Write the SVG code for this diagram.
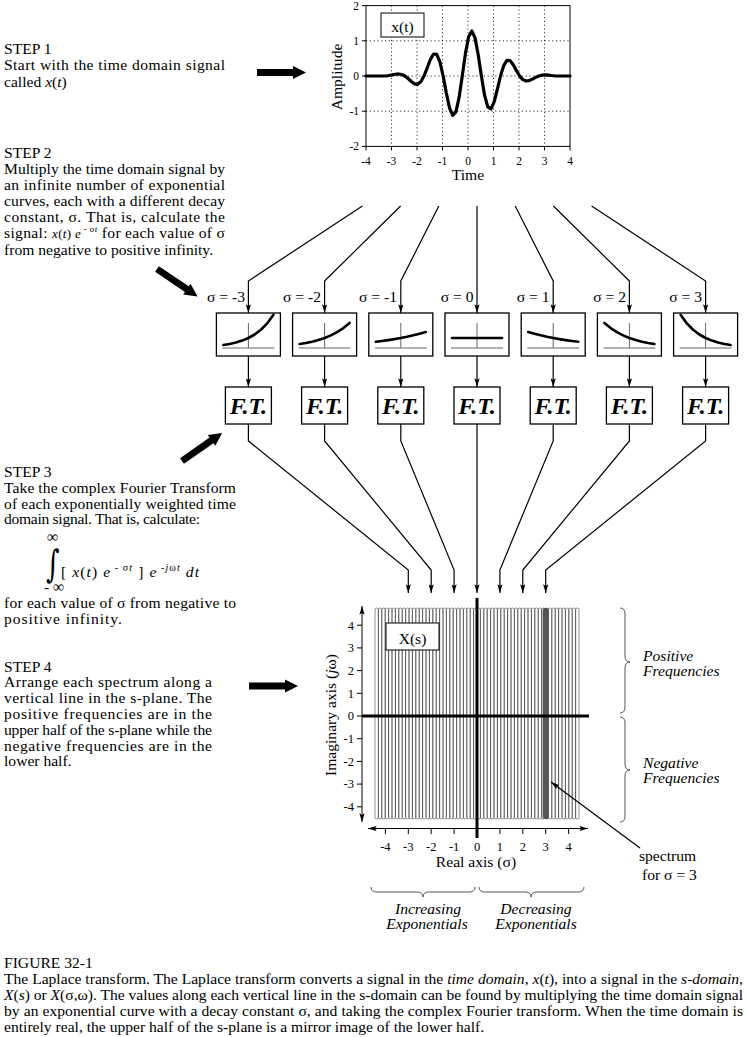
<svg xmlns="http://www.w3.org/2000/svg" xmlns:xlink="http://www.w3.org/1999/xlink" width="747" height="1037" viewBox="0 0 747 1037">
<style>
.t{font-family:"Liberation Serif","Times New Roman",serif;font-size:15.6px;fill:#000}
.i{font-style:italic}
.sm{font-family:"Liberation Serif","Times New Roman",serif;font-size:11.5px;fill:#000}
.tk{font-family:"Liberation Serif","Times New Roman",serif;font-size:12.5px;fill:#000}
.ft{font-family:"Liberation Serif","Times New Roman",serif;font-size:24px;font-weight:bold;font-style:italic;text-anchor:middle}
.box{fill:#fff;stroke:#000;stroke-width:1.3}
.con{fill:none;stroke:#000;stroke-width:1.2;marker-end:url(#ah)}
.grid{stroke:#000;stroke-width:0.8;stroke-dasharray:1.2 2.6}
.ax{fill:none;stroke:#666;stroke-width:1}
.ex{fill:none;stroke:#000;stroke-width:2.6;stroke-linecap:round;stroke-linejoin:round}
.thin{fill:none;stroke:#000;stroke-width:1}
.brace{fill:none;stroke:#555;stroke-width:1}
</style>
<defs>
<marker id="ah" viewBox="0 0 10 6" refX="10" refY="3" markerWidth="9" markerHeight="5.2" markerUnits="userSpaceOnUse" orient="auto-start-reverse"><path d="M0,0 L10,3 L0,6 L2,3 Z" fill="#000"/></marker>
<path id="blk" d="M0,-3.4 H36 V-6.6 L49,0 L36,6.6 V3.4 H0 Z" fill="#000"/>
<path id="axs" class="ax" d="M-26,0 H26 M0,-25 V0"/>
<path id="e3" class="ex" d="M-25,-3 L-18.75,-4.07 L-12.5,-5.49 L-6.25,-7.41 L0,-10 L6.25,-13.5 L12.5,-18.22 L18.75,-24.6 L25,-33.2"/>
<path id="e2" class="ex" d="M-25,-4 L-18.75,-5.02 L-12.5,-6.31 L-6.25,-7.95 L0,-10 L6.25,-12.6 L12.5,-15.85 L18.75,-19.94 L25,-25.1"/>
<path id="e1" class="ex" d="M-25,-6.25 L-18.75,-7.03 L-12.5,-7.91 L-6.25,-8.89 L0,-10 L6.25,-11.25 L12.5,-12.65 L18.75,-14.23 L25,-16"/>
<path id="e0" class="ex" d="M-25,-10 L25,-10"/>
<rect id="col" x="0" y="608" width="3.4" height="211" rx="1.7" ry="1.7" fill="none" stroke="#222" stroke-width="0.5"/>
</defs>
<rect width="747" height="1037" fill="#fff"/>

<!-- top plot x(t) -->
<g id="plot-xt">
<g class="grid">
<path d="M391.5,5.6 V146.4 M417,5.6 V146.4 M442.5,5.6 V146.4 M468,5.6 V146.4 M493.5,5.6 V146.4 M519,5.6 V146.4 M544.5,5.6 V146.4"/>
<path d="M366,40.8 H570 M366,76 H570 M366,111.2 H570"/>
</g>
<rect x="366" y="5.6" width="204" height="140.8" fill="none" stroke="#000" stroke-width="1"/>
<path class="thin" d="M362,5.6 H366 M362,40.8 H366 M362,76 H366 M362,111.2 H366 M362,146.4 H366 M366,146.4 V150.4 M391.5,146.4 V150.4 M417,146.4 V150.4 M442.5,146.4 V150.4 M468,146.4 V150.4 M493.5,146.4 V150.4 M519,146.4 V150.4 M544.5,146.4 V150.4 M570,146.4 V150.4"/>
<g class="sm" text-anchor="end">
<text x="359" y="9.6">2</text><text x="359" y="44.8">1</text><text x="359" y="80">0</text><text x="359" y="115.2">-1</text><text x="359" y="150.4">-2</text>
</g>
<g class="sm" text-anchor="middle">
<text x="366" y="165">-4</text><text x="391.5" y="165">-3</text><text x="417" y="165">-2</text><text x="442.5" y="165">-1</text><text x="468" y="165">0</text><text x="493.5" y="165">1</text><text x="519" y="165">2</text><text x="544.5" y="165">3</text><text x="570" y="165">4</text>
</g>
<text class="t" x="468" y="180" font-size="13.3" text-anchor="middle">Time</text>
<text class="t" transform="translate(342,77) rotate(-90)" font-size="13.3" text-anchor="middle">Amplitude</text>
<polyline fill="none" stroke="#000" stroke-width="3.2" stroke-linejoin="round" stroke-linecap="round" points="366,76 385.8,76 388.95,75.51 392.14,74.84 395.33,74.22 398.51,73.96 401.7,74.47 404.89,76 408.08,78.52 411.26,81.47 414.45,83.84 417.64,84.31 420.83,81.81 424.01,76 427.2,67.81 430.39,59.47 433.58,54.03 436.76,54.37 439.95,61.98 443.14,76 446.33,93.03 449.51,107.89 452.7,115.34 455.89,111.94 459.08,97.62 462.26,76 465.45,53.39 468.64,36.69 471.83,31 475.01,37.84 478.2,54.7 481.39,76 484.58,95.19 487.76,106.95 490.95,108.88 494.14,101.88 497.33,89.4 500.51,76 503.7,65.6 506.89,60.43 510.08,60.65 513.26,64.79 516.45,70.61 519.64,76 522.83,79.6 526.01,81 529.2,80.58 532.39,79.1 535.58,77.38 538.76,76 541.95,75.2 545.14,74.97 548.33,75.13 551.5,75.5 554.7,75.8 558,76 570,76"/>
<rect x="381" y="13" width="43" height="24" fill="#fff" stroke="#000" stroke-width="1"/>
<text class="t" x="402.5" y="31.5" font-size="20" text-anchor="middle">x(t)</text>
</g>

<!-- step texts -->
<g id="step1">
<text class="t" x="4" y="54">STEP 1</text>
<text class="t" x="4" y="70" textLength="221" lengthAdjust="spacing">Start with the time domain signal</text>
<text class="t" x="4" y="87">called <tspan class="i">x</tspan>(<tspan class="i">t</tspan>)</text>
</g>
<g id="step2">
<text class="t" x="4" y="158">STEP 2</text>
<text class="t" x="4" y="174" textLength="221" lengthAdjust="spacing">Multiply the time domain signal by</text>
<text class="t" x="4" y="190" textLength="221" lengthAdjust="spacing">an infinite number of exponential</text>
<text class="t" x="4" y="206" textLength="221" lengthAdjust="spacing">curves, each with a different decay</text>
<text class="t" x="4" y="222" textLength="221" lengthAdjust="spacing">constant, σ.  That is, calculate the</text>
<text class="t" x="4" y="238" textLength="221" lengthAdjust="spacing">signal: <tspan font-size="13"><tspan class="i">x</tspan>(<tspan class="i">t</tspan>) <tspan class="i">e</tspan></tspan><tspan font-size="9" dy="-6"> - σ<tspan class="i">t</tspan></tspan><tspan dy="6"> for each value of σ</tspan></text>
<text class="t" x="4" y="255">from negative to positive infinity.</text>
</g>
<g id="step3">
<text class="t" x="4" y="477">STEP 3</text>
<text class="t" x="4" y="493" textLength="232" lengthAdjust="spacing">Take the complex Fourier Transform</text>
<text class="t" x="4" y="509" textLength="232" lengthAdjust="spacing">of each exponentially weighted time</text>
<text class="t" x="4" y="524" textLength="196" lengthAdjust="spacing">domain signal.  That is, calculate:</text>
<text class="t" x="47" y="542" font-size="10">∞</text>
<text transform="translate(46,577) scale(0.9,1.3)" font-family="DejaVu Serif, serif" font-size="29">∫</text>
<text class="t" x="44" y="592" font-size="10">- ∞</text>
<text class="t" x="61" y="577" textLength="138" lengthAdjust="spacing">[ <tspan class="i">x</tspan>(<tspan class="i">t</tspan>) <tspan class="i">e</tspan><tspan font-size="10" dy="-6"> - σ<tspan class="i">t</tspan></tspan><tspan dy="6"> ] </tspan><tspan class="i">e</tspan><tspan font-size="10" dy="-6"> -<tspan class="i">j</tspan>ω<tspan class="i">t</tspan></tspan><tspan class="i" dy="6"> dt</tspan></text>
<text class="t" x="4" y="608" textLength="232" lengthAdjust="spacing">for each value of σ from negative to</text>
<text class="t" x="4" y="624" textLength="118" lengthAdjust="spacing">positive infinity.</text>
</g>
<g id="step4">
<text class="t" x="4" y="672">STEP 4</text>
<text class="t" x="4" y="687" textLength="208" lengthAdjust="spacing">Arrange each spectrum along a</text>
<text class="t" x="4" y="703" textLength="208" lengthAdjust="spacing">vertical line in the s-plane. The</text>
<text class="t" x="4" y="719" textLength="208" lengthAdjust="spacing">positive frequencies are in the</text>
<text class="t" x="4" y="735" textLength="208" lengthAdjust="spacing">upper half of the s-plane while the</text>
<text class="t" x="4" y="751" textLength="208" lengthAdjust="spacing">negative frequencies are in the</text>
<text class="t" x="4" y="766">lower half.</text>
</g>

<!-- block arrows -->
<g id="block-arrows">
<use href="#blk" transform="translate(257,72.5)"/>
<use href="#blk" transform="translate(157,269) rotate(34)"/>
<use href="#blk" transform="translate(182,461) rotate(-35)"/>
<use href="#blk" transform="translate(249,686)"/>
</g>

<!-- connectors -->
<g id="connectors">
<path class="con" d="M362.4,206 L248.4,281 V313"/>
<path class="con" d="M400.6,206 L324.6,281 V313"/>
<path class="con" d="M438.8,206 L400.8,281 V313"/>
<path class="con" d="M477,206 V313"/>
<path class="con" d="M515.2,206 L553.2,281 V313"/>
<path class="con" d="M553.4,206 L629.4,281 V313"/>
<path class="con" d="M591.6,206 L705.6,281 V313"/>
<path class="con" d="M248.4,356 V387"/>
<path class="con" d="M324.6,356 V387"/>
<path class="con" d="M400.8,356 V387"/>
<path class="con" d="M477,356 V387"/>
<path class="con" d="M553.2,356 V387"/>
<path class="con" d="M629.4,356 V387"/>
<path class="con" d="M705.6,356 V387"/>
<path class="con" d="M248.4,424 V441 L408.3,570 V593"/>
<path class="con" d="M324.6,424 V441 L431.2,570 V593"/>
<path class="con" d="M400.8,424 V441 L454.1,570 V593"/>
<path class="con" d="M477,424 V593"/>
<path class="con" d="M553.2,424 V441 L499.9,570 V593"/>
<path class="con" d="M629.4,424 V441 L522.8,570 V593"/>
<path class="con" d="M705.6,424 V441 L545.7,570 V593"/>
</g>

<!-- sigma labels -->
<g id="sigma-labels" class="t" font-size="15" text-anchor="end">
<text x="245" y="302">σ = -3</text>
<text x="321" y="302">σ = -2</text>
<text x="397" y="302">σ = -1</text>
<text x="473.5" y="302">σ = 0</text>
<text x="549.5" y="302">σ = 1</text>
<text x="626" y="302">σ = 2</text>
<text x="702" y="302">σ = 3</text>
</g>

<!-- exponential boxes -->
<g id="exp-m3"><rect class="box" x="216.4" y="313" width="64" height="43"/><use href="#axs" transform="translate(248.4,348)"/><use href="#e3" transform="translate(248.4,348)"/></g>
<g id="exp-m2"><rect class="box" x="292.6" y="313" width="64" height="43"/><use href="#axs" transform="translate(324.6,348)"/><use href="#e2" transform="translate(324.6,348)"/></g>
<g id="exp-m1"><rect class="box" x="368.8" y="313" width="64" height="43"/><use href="#axs" transform="translate(400.8,348)"/><use href="#e1" transform="translate(400.8,348)"/></g>
<g id="exp-0"><rect class="box" x="445" y="313" width="64" height="43"/><use href="#axs" transform="translate(477,348)"/><use href="#e0" transform="translate(477,348)"/></g>
<g id="exp-p1"><rect class="box" x="521.2" y="313" width="64" height="43"/><use href="#axs" transform="translate(553.2,348)"/><use href="#e1" transform="translate(553.2,348) scale(-1,1)"/></g>
<g id="exp-p2"><rect class="box" x="597.4" y="313" width="64" height="43"/><use href="#axs" transform="translate(629.4,348)"/><use href="#e2" transform="translate(629.4,348) scale(-1,1)"/></g>
<g id="exp-p3"><rect class="box" x="673.6" y="313" width="64" height="43"/><use href="#axs" transform="translate(705.6,348)"/><use href="#e3" transform="translate(705.6,348) scale(-1,1)"/></g>

<!-- FT boxes -->
<g id="ft-m3"><rect class="box" x="225.4" y="387" width="46" height="37"/><text class="ft" x="248.4" y="414">F.T.</text></g>
<g id="ft-m2"><rect class="box" x="301.6" y="387" width="46" height="37"/><text class="ft" x="324.6" y="414">F.T.</text></g>
<g id="ft-m1"><rect class="box" x="377.8" y="387" width="46" height="37"/><text class="ft" x="400.8" y="414">F.T.</text></g>
<g id="ft-0"><rect class="box" x="454" y="387" width="46" height="37"/><text class="ft" x="477" y="414">F.T.</text></g>
<g id="ft-p1"><rect class="box" x="530.2" y="387" width="46" height="37"/><text class="ft" x="553.2" y="414">F.T.</text></g>
<g id="ft-p2"><rect class="box" x="606.4" y="387" width="46" height="37"/><text class="ft" x="629.4" y="414">F.T.</text></g>
<g id="ft-p3"><rect class="box" x="682.6" y="387" width="46" height="37"/><text class="ft" x="705.6" y="414">F.T.</text></g>

<!-- s-plane -->
<g id="s-plane">
<g id="columns">
<use href="#col" x="375"/><use href="#col" x="378.4"/><use href="#col" x="381.8"/><use href="#col" x="385.2"/><use href="#col" x="388.6"/><use href="#col" x="392"/><use href="#col" x="395.4"/><use href="#col" x="398.8"/><use href="#col" x="402.2"/><use href="#col" x="405.6"/>
<use href="#col" x="409"/><use href="#col" x="412.4"/><use href="#col" x="415.8"/><use href="#col" x="419.2"/><use href="#col" x="422.6"/><use href="#col" x="426"/><use href="#col" x="429.4"/><use href="#col" x="432.8"/><use href="#col" x="436.2"/><use href="#col" x="439.6"/>
<use href="#col" x="443"/><use href="#col" x="446.4"/><use href="#col" x="449.8"/><use href="#col" x="453.2"/><use href="#col" x="456.6"/><use href="#col" x="460"/><use href="#col" x="463.4"/><use href="#col" x="466.8"/><use href="#col" x="470.2"/><use href="#col" x="473.6"/>
<use href="#col" x="477"/><use href="#col" x="480.4"/><use href="#col" x="483.8"/><use href="#col" x="487.2"/><use href="#col" x="490.6"/><use href="#col" x="494"/><use href="#col" x="497.4"/><use href="#col" x="500.8"/><use href="#col" x="504.2"/><use href="#col" x="507.6"/>
<use href="#col" x="511"/><use href="#col" x="514.4"/><use href="#col" x="517.8"/><use href="#col" x="521.2"/><use href="#col" x="524.6"/><use href="#col" x="528"/><use href="#col" x="531.4"/><use href="#col" x="534.8"/><use href="#col" x="538.2"/><use href="#col" x="541.6"/>
<use href="#col" x="545"/><use href="#col" x="548.4"/><use href="#col" x="551.8"/><use href="#col" x="555.2"/><use href="#col" x="558.6"/><use href="#col" x="562"/><use href="#col" x="565.4"/><use href="#col" x="568.8"/><use href="#col" x="572.2"/><use href="#col" x="575.6"/>
</g>
<rect x="542.7" y="608" width="6" height="211" rx="2" fill="#555"/>
<path d="M362,716 H589" stroke="#000" stroke-width="3"/>
<path d="M477,598 V838" stroke="#000" stroke-width="3"/>
<path class="thin" d="M362,606 V822" marker-start="url(#ah)" marker-end="url(#ah)"/>
<path class="thin" d="M368,828.5 H588" marker-start="url(#ah)" marker-end="url(#ah)"/>
<path class="thin" d="M357,625.2 H362 M357,647.9 H362 M357,670.6 H362 M357,693.3 H362 M357,716 H362 M357,738.7 H362 M357,761.4 H362 M357,784.1 H362 M357,806.8 H362"/>
<path class="thin" d="M385.4,828.5 V834 M408.3,828.5 V834 M431.2,828.5 V834 M454.1,828.5 V834 M477,828.5 V834 M499.9,828.5 V834 M522.8,828.5 V834 M545.7,828.5 V834 M568.6,828.5 V834"/>
<g class="tk" text-anchor="end">
<text x="354" y="629.5">4</text><text x="354" y="652.2">3</text><text x="354" y="674.9">2</text><text x="354" y="697.6">1</text><text x="354" y="720.3">0</text><text x="354" y="743">-1</text><text x="354" y="765.7">-2</text><text x="354" y="788.4">-3</text><text x="354" y="811.1">-4</text>
</g>
<g class="tk" text-anchor="middle">
<text x="385.4" y="851">-4</text><text x="408.3" y="851">-3</text><text x="431.2" y="851">-2</text><text x="454.1" y="851">-1</text><text x="477" y="851">0</text><text x="499.9" y="851">1</text><text x="522.8" y="851">2</text><text x="545.7" y="851">3</text><text x="568.6" y="851">4</text>
</g>
<text class="t" x="476" y="867" font-size="14.8" text-anchor="middle">Real axis (σ)</text>
<text class="t" transform="translate(336,715) rotate(-90)" font-size="16" text-anchor="middle">Imaginary axis (<tspan class="i">j</tspan>ω)</text>
<rect x="386" y="623" width="53" height="27" fill="#fff" stroke="#000" stroke-width="1"/>
<text class="t" x="412.5" y="643.5" font-size="20" text-anchor="middle">X(s)</text>
</g>

<!-- braces and annotations -->
<g id="freq-braces">
<path class="brace" d="M620,608 Q625,608 625,614 V656 Q625,662 630,662 Q625,662 625,668 V707 Q625,713 620,713"/>
<path class="brace" d="M620,717 Q625,717 625,723 V764 Q625,770 630,770 Q625,770 625,776 V816 Q625,822 620,822"/>
<text class="t i" x="643" y="661">Positive</text>
<text class="t i" x="643" y="676">Frequencies</text>
<text class="t i" x="643" y="768">Negative</text>
<text class="t i" x="643" y="783">Frequencies</text>
</g>
<g id="spectrum-note">
<path class="con" d="M640,848 L551,782" stroke-width="1"/>
<text class="t" x="639" y="861">spectrum</text>
<text class="t" x="642" y="880">for σ = 3</text>
</g>
<g id="exp-braces">
<path class="brace" d="M371,887 Q371,892 377,892 H417 Q423,892 423,897 Q423,892 429,892 H469 Q475,892 475,887"/>
<path class="brace" d="M479,887 Q479,892 485,892 H525 Q531,892 531,897 Q531,892 537,892 H578 Q584,892 584,887"/>
<text class="t i" x="428" y="914" text-anchor="middle">Increasing</text>
<text class="t i" x="427" y="929" text-anchor="middle">Exponentials</text>
<text class="t i" x="536" y="914" text-anchor="middle">Decreasing</text>
<text class="t i" x="536" y="929" text-anchor="middle">Exponentials</text>
</g>

<!-- caption -->
<g id="caption">
<text class="t" x="4" y="968" font-size="15">FIGURE 32-1</text>
<text class="t" x="4" y="984" font-size="15" textLength="739" lengthAdjust="spacing">The Laplace transform. The Laplace transform converts a signal in the <tspan class="i">time domain</tspan>, <tspan class="i">x</tspan>(<tspan class="i">t</tspan>), into a signal in the <tspan class="i">s-domain</tspan>,</text>
<text class="t" x="4" y="1000" font-size="15" textLength="739" lengthAdjust="spacing"><tspan class="i">X</tspan>(<tspan class="i">s</tspan>) or <tspan class="i">X</tspan>(σ,ω).  The values along each vertical line in the s-domain can be found by multiplying the time domain signal</text>
<text class="t" x="4" y="1016" font-size="15" textLength="739" lengthAdjust="spacing">by an exponential curve with a decay constant σ, and taking the complex Fourier transform.  When the time domain is</text>
<text class="t" x="4" y="1032" font-size="15">entirely real, the upper half of the s-plane is a mirror image of the lower half.</text>
</g>
</svg>
